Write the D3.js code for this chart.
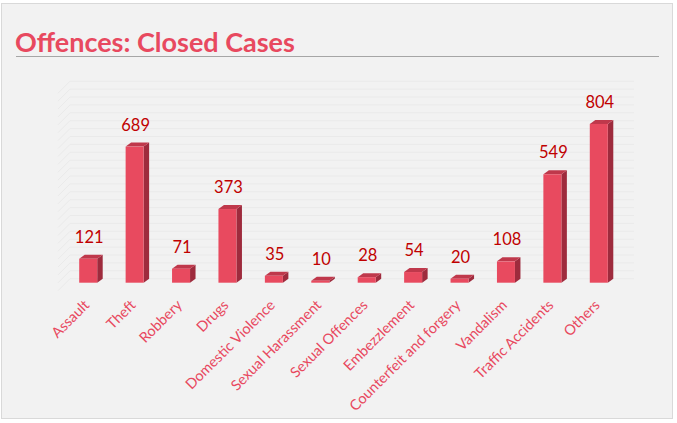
<!DOCTYPE html>
<html lang="en">
<head>
    <meta charset="UTF-8">
    <title>Offences: Closed Cases</title>
    <script src="https://d3js.org/d3.v7.min.js"></script>
    <style>
        body { margin: 0; background: #ffffff; }
        svg { display: block; }
    </style>
</head>
<body>
<script>
    // chart data
    var categories = ["Assault", "Theft", "Robbery", "Drugs", "Domestic Violence",
        "Sexual Harassment", "Sexual Offences", "Embezzlement", "Counterfeit and forgery",
        "Vandalism", "Traffic Accidents", "Others"];
    var closedCases = [121, 689, 71, 373, 35, 10, 28, 54, 20, 108, 549, 804];
    var gridTicks = d3.range(0, 1001, 40);

    var w = 677;
    var h = 423;
    var barW = 18;
    var dx = 5.5, dy = 4;   // fake 3d depth

    var svg = d3.select("body")
        .append("svg")
        .attr("width", w)
        .attr("height", h);

    // panel
    svg.append("rect")
        .attr("x", 1.5).attr("y", 3.5)
        .attr("width", 671).attr("height", 415)
        .attr("fill", "#f2f2f2")
        .attr("stroke", "#d9d9d9");

    // title + rule
    svg.append("text")
        .attr("x", 15).attr("y", 52)
        .attr("font-family", "Lato")
        .attr("font-weight", "bold")
        .attr("font-size", 27)
        .attr("fill", "#e8495f")
        .text("Offences: Closed Cases");

    svg.append("line")
        .attr("x1", 16).attr("x2", 659)
        .attr("y1", 56.5).attr("y2", 56.5)
        .attr("stroke", "#a6a6a6")
        .attr("stroke-width", 1.2);

    var x = d3.scalePoint()
        .domain(categories)
        .range([65, 622])
        .padding(0.5);

    var y = d3.scaleLinear()
        .domain([0, 1000])
        .range([282.7, 85.2]);

    // faint back-wall gridlines (with a short side-wall stub)
    var grid = svg.append("g")
        .attr("stroke", "#eaeaea")
        .attr("stroke-width", 1)
        .attr("fill", "none");

    grid.selectAll("polyline")
        .data(gridTicks)
        .enter()
        .append("polyline")
        .attr("points", function(d) {
            var yy = y(d);
            return [[58, yy + 8], [70, yy - dy], [634, yy - dy]].join(" ");
        });

    var bars = svg.append("g")
        .selectAll("g")
        .data(categories)
        .enter()
        .append("g");

    function barLeft(d) { return x(d) - barW / 2; }
    function barTop(i) { return y(closedCases[i]); }

    // side
    bars.append("polygon")
        .attr("points", function(d, i) {
            var a = barLeft(d) + barW, t = barTop(i), b = y(0);
            return [[a, t], [a + dx, t - dy], [a + dx, b - dy], [a, b]].join(" ");
        })
        .attr("fill", "#9e2b3d");

    // top face
    bars.append("polygon")
        .attr("points", function(d, i) {
            var a = barLeft(d), t = barTop(i);
            return [[a, t], [a + dx, t - dy], [a + barW + dx, t - dy], [a + barW, t]].join(" ");
        })
        .attr("fill", "#bf384b");

    // front
    bars.append("rect")
        .attr("x", function(d) { return barLeft(d); })
        .attr("y", function(d, i) { return barTop(i); })
        .attr("width", barW)
        .attr("height", function(d, i) { return y(0) - barTop(i); })
        .attr("fill", "#e84a5f");

    // value labels
    bars.append("text")
        .attr("x", function(d) { return x(d) + 1; })
        .attr("y", function(d, i) { return barTop(i) - 16; })
        .attr("text-anchor", "middle")
        .attr("font-family", "Lato")
        .attr("font-size", 16.5)
        .attr("fill", "#c00000")
        .text(function(d, i) { return closedCases[i]; });

    // category labels
    bars.append("text")
        .attr("transform", function(d) {
            return "translate(" + (x(d) + 2) + ",306) rotate(-45)";
        })
        .attr("text-anchor", "end")
        .attr("font-family", "Lato")
        .attr("font-size", 14.5)
        .attr("fill", "#e8495f")
        .text(function(d) { return d; });
</script>
</body>
</html>
